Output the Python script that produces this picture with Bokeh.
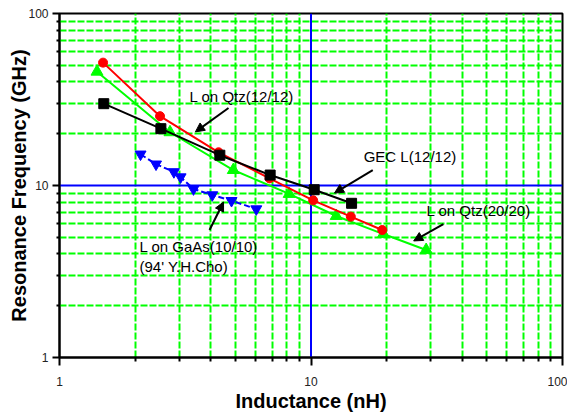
from bokeh.plotting import figure
from bokeh.models import (FixedTicker, NumeralTickFormatter, Span, Arrow, NormalHead, Label)
from bokeh.embed import file_html
from bokeh.resources import INLINE

# --- data ---
qtz12_x = [1.49, 2.51, 4.29, 6.84, 10.2, 14.4, 19.2]
qtz12_y = [51.8, 25.3, 15.6, 11.0, 8.20, 6.59, 5.51]

qtz20_x = [1.41, 2.75, 4.91, 8.19, 12.6, 19.4, 28.7]
qtz20_y = [45.9, 20.4, 12.3, 8.93, 6.65, 5.22, 4.22]

gec_x = [1.50, 2.53, 4.34, 6.88, 10.3, 14.5]
gec_y = [29.9, 21.4, 15.0, 11.5, 9.45, 7.88]

gaas_x = [2.10, 2.42, 2.85, 3.03, 3.41, 4.05, 4.83, 6.06]
gaas_y = [15.2, 13.3, 12.0, 11.2, 9.54, 8.81, 8.16, 7.30]

major_ticks = [1, 10, 100]
minor_ticks = [2, 3, 4, 5, 6, 7, 8, 9, 20, 30, 40, 50, 60, 70, 80, 90]

FONT = "Liberation Sans"
GREEN = "#00ff00"

p = figure(width=567, height=414, x_axis_type="log", y_axis_type="log",
           x_range=(1, 100), y_range=(1, 100),
           output_backend="svg", toolbar_location=None,
           min_border_left=59, min_border_right=5, min_border_top=13, min_border_bottom=57,
           background_fill_color="white", border_fill_color="white")

p.outline_line_color = "black"
p.outline_line_width = 2

for ax in (p.xaxis[0], p.yaxis[0]):
    ax.ticker = FixedTicker(ticks=major_ticks, minor_ticks=minor_ticks)
    ax.formatter = NumeralTickFormatter(format="0")
    ax.axis_line_color = "black"
    ax.axis_line_width = 2
    ax.major_tick_line_color = "black"
    ax.major_tick_line_width = 2
    ax.minor_tick_line_color = "black"
    ax.minor_tick_line_width = 2
    ax.major_tick_in = 0
    ax.major_label_text_font = FONT
    ax.major_label_text_font_size = "12px"
    ax.major_label_text_color = "#222222"
    ax.axis_label_text_font = FONT
    ax.axis_label_text_font_style = "bold"
    ax.axis_label_text_font_size = "20px"
    ax.axis_label_text_color = "black"

p.xaxis.axis_label = "Inductance (nH)"
p.xaxis.major_tick_out = 8
p.xaxis.minor_tick_out = 4
p.xaxis.minor_tick_in = 1
p.xaxis.major_label_standoff = 11
p.xaxis.axis_label_standoff = 1

p.yaxis.axis_label = "Resonance Frequency (GHz)"
p.yaxis.major_tick_out = 7
p.yaxis.minor_tick_out = 3
p.yaxis.minor_tick_in = 0
p.yaxis.major_label_standoff = 4
p.yaxis.axis_label_standoff = -5

for g in (p.xgrid[0], p.ygrid[0]):
    g.grid_line_color = None
    g.minor_grid_line_color = GREEN
    g.minor_grid_line_width = 2
    g.minor_grid_line_dash = "7 2"

p.add_layout(Span(location=10, dimension="height", line_color="#0000ff", line_width=2, level="underlay"))
p.add_layout(Span(location=10, dimension="width", line_color="#0000ff", line_width=2, level="underlay"))

# series
p.line(qtz20_x, qtz20_y, line_color=GREEN, line_width=2)
p.scatter(qtz20_x, qtz20_y, marker="triangle", size=12, fill_color=GREEN, line_color=GREEN)

p.line(qtz12_x, qtz12_y, line_color="#ff0000", line_width=2)
p.scatter(qtz12_x, qtz12_y, marker="circle", size=9, fill_color="#ff0000", line_color="#ff0000")

p.line(gec_x, gec_y, line_color="black", line_width=2)
p.scatter(gec_x, gec_y, marker="square", size=10, fill_color="black", line_color="black")

p.line(gaas_x, gaas_y, line_color="#0000ff", line_width=2, line_dash="6 3")
p.scatter(gaas_x, gaas_y, marker="inverted_triangle", size=11, fill_color="#0000ff", line_color="#0000ff")

# annotations
def arrow(xs, ys, xe, ye):
    p.add_layout(Arrow(end=NormalHead(size=9, fill_color="black", line_color="black"),
                       x_start=xs, y_start=ys, x_end=xe, y_end=ye,
                       line_color="black", line_width=2))

def label(x, y, t):
    p.add_layout(Label(x=x, y=y, text=t, text_font=FONT, text_font_size="15px",
                       text_color="black", text_baseline="middle", text_align="left"))

label(3.29, 32.7, "L on Qtz(12/12)")
arrow(4.70, 28.2, 3.47, 20.5)

label(16.2, 14.8, "GEC L(12/12)")
arrow(17.6, 12.3, 12.4, 9.04)

label(28.8, 7.11, "L on Qtz(20/20)")
arrow(33.6, 5.97, 25.6, 4.76)

label(2.08, 4.39, "L on GaAs(10/10)")
label(2.08, 3.36, "(94' Y.H.Cho)")
arrow(3.95, 5.51, 4.49, 8.02)

open("out.html", "w").write(file_html(p, INLINE))
